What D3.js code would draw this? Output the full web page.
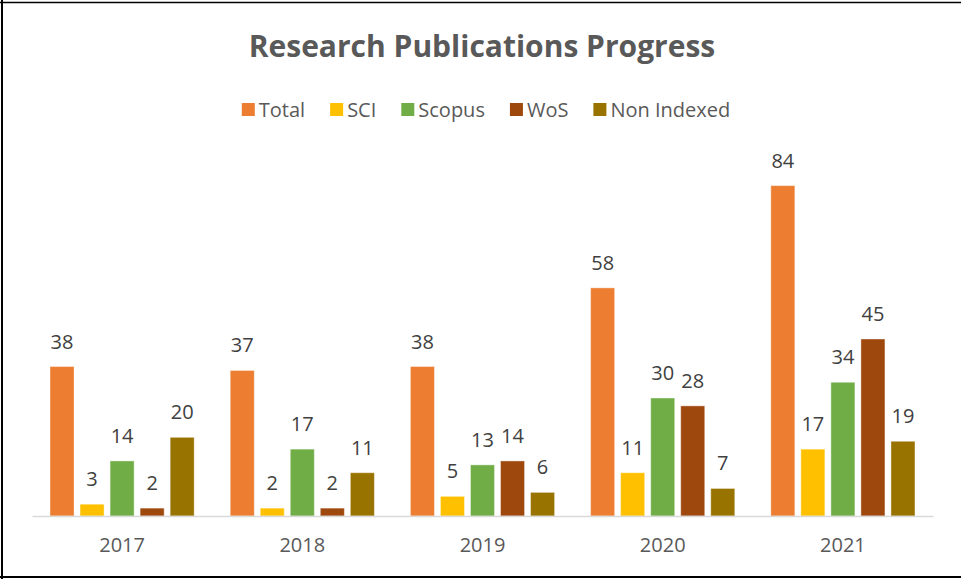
<!DOCTYPE html>
<html lang="en">
<head>
    <meta charset="UTF-8">
    <title>Research Publications Progress</title>
    <script src="https://cdnjs.cloudflare.com/ajax/libs/d3/7.8.5/d3.min.js"></script>
    <style>
        body { margin: 0; background: #fff; }
        text { font-family: "Open Sans", Lato, sans-serif; }
    </style>
</head>
<body>
    <script type="text/javascript">
        const width = 961;
        const height = 579;

        const years = ["2017", "2018", "2019", "2020", "2021"];
        const series = ["Total", "SCI", "Scopus", "WoS", "Non Indexed"];
        const colors = ["#ED7D31", "#FFC000", "#70AD47", "#9E480E", "#997300"];
        const total = [38, 37, 38, 58, 84];
        const sci = [3, 2, 5, 11, 17];
        const scopus = [14, 17, 13, 30, 34];
        const wos = [2, 2, 14, 28, 45];
        const nonIndexed = [20, 11, 6, 7, 19];

        const values = [total, sci, scopus, wos, nonIndexed];
        const rows = [];
        years.forEach(function(y, i) {
            series.forEach(function(s, j) {
                rows.push({year: y, series: s, value: values[j][i]});
            });
        });

        const svg = d3.select("body").append("svg")
            .attr("width", width)
            .attr("height", height);

        // frame
        svg.append("line").attr("x1", 0).attr("x2", width).attr("y1", 2.5).attr("y2", 2.5)
            .attr("stroke", "#000").attr("stroke-width", 1.5);
        svg.append("line").attr("x1", 2).attr("x2", 2).attr("y1", 0).attr("y2", height)
            .attr("stroke", "#000").attr("stroke-width", 2);
        svg.append("line").attr("x1", 0).attr("x2", width).attr("y1", 577).attr("y2", 577)
            .attr("stroke", "#000").attr("stroke-width", 2);

        const x0 = d3.scaleBand().domain(years).range([32, 933]);
        const x1 = d3.scaleBand().domain(series).range([0, x0.bandwidth()])
            .paddingInner(0.2).paddingOuter(0.6);
        const y = d3.scaleLinear().domain([0, 90]).range([516, 162]);
        const color = d3.scaleOrdinal().domain(series).range(colors);

        // title
        svg.append("text")
            .attr("x", 482).attr("y", 57)
            .attr("text-anchor", "middle")
            .attr("font-size", "30px")
            .attr("font-weight", "bold")
            .attr("fill", "#595959")
            .text("Research Publications Progress");

        // legend
        const legend = svg.append("g");
        let lx = 0;
        series.forEach(function(s) {
            const item = legend.append("g").attr("transform", "translate(" + lx + ",0)");
            item.append("rect").attr("x", 0).attr("y", 103).attr("width", 13).attr("height", 13)
                .attr("fill", color(s));
            const t = item.append("text").attr("x", 17).attr("y", 117)
                .attr("font-size", "20px").attr("fill", "#595959").text(s);
            lx += 17 + t.node().getComputedTextLength() + 25;
        });
        const legendWidth = lx - 25;
        legend.attr("transform", "translate(" + (486 - legendWidth / 2) + ",0)");

        // bars
        const groups = svg.selectAll("g.year")
            .data(years)
            .enter().append("g")
            .attr("class", "year")
            .attr("transform", function(d) { return "translate(" + x0(d) + ",0)"; });

        groups.selectAll("rect")
            .data(function(d) { return rows.filter(function(r) { return r.year === d; }); })
            .enter().append("rect")
            .attr("x", function(d) { return x1(d.series); })
            .attr("y", function(d) { return y(d.value); })
            .attr("width", x1.bandwidth())
            .attr("height", function(d) { return y(0) - y(d.value); })
            .attr("fill", function(d) { return color(d.series); })
            .attr("stroke", "#fff")
            .attr("stroke-opacity", 0.4)
            .attr("stroke-width", 1);

        groups.selectAll("text.label")
            .data(function(d) { return rows.filter(function(r) { return r.year === d; }); })
            .enter().append("text")
            .attr("class", "label")
            .attr("x", function(d) { return x1(d.series) + x1.bandwidth() / 2; })
            .attr("y", function(d) { return y(d.value) - 18; })
            .attr("text-anchor", "middle")
            .attr("font-size", "20px")
            .attr("fill", "#404040")
            .text(function(d) { return d.value; });

        // x axis
        const xAxis = d3.axisBottom(x0).tickSize(0).tickPadding(22);
        const gx = svg.append("g")
            .attr("transform", "translate(0,516)")
            .call(xAxis);
        gx.select(".domain").attr("stroke", "#d9d9d9").attr("stroke-width", 1.5);
        gx.selectAll("text")
            .attr("font-family", "'Open Sans', Lato, sans-serif")
            .attr("font-size", "20px")
            .attr("fill", "#595959");
    </script>
</body>
</html>
